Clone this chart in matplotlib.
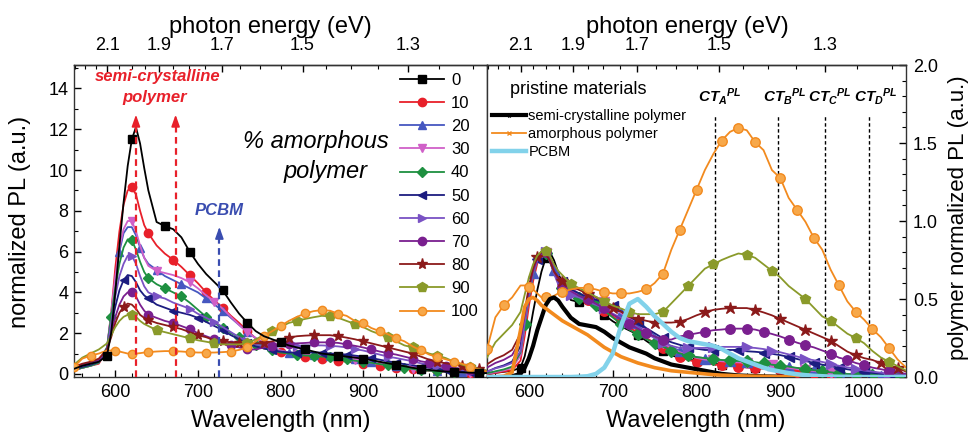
import numpy as np
import matplotlib
matplotlib.use('Agg')
import matplotlib.pyplot as plt
from matplotlib.lines import Line2D
from matplotlib.ticker import MultipleLocator, FixedLocator

plt.rcParams['font.family'] = ['Liberation Sans', 'DejaVu Sans']
plt.rcParams['mathtext.fontset'] = 'custom'
plt.rcParams['mathtext.rm'] = 'Liberation Sans'
plt.rcParams['mathtext.it'] = 'Liberation Sans:italic:bold'
plt.rcParams['mathtext.bf'] = 'Liberation Sans:bold'

# ---------------- data ----------------
wavelength = [550, 560, 570, 580, 590, 595, 600, 605, 610, 615, 620, 625, 630, 635, 640,
              650, 660, 670, 680, 690, 700, 710, 720, 730, 740, 750, 760, 770, 780, 790,
              800, 810, 820, 830, 840, 850, 860, 870, 880, 890, 900, 910, 920, 930, 940,
              950, 960, 970, 980, 990, 1000, 1010, 1020, 1030, 1040, 1050]

amorphous_pct = [0, 10, 20, 30, 40, 50, 60, 70, 80, 90, 100]

pl_0 = [0.25, 0.4, 0.5, 0.6, 0.9, 2.0, 4.0, 6.3, 8.4, 10.2, 11.5, 12.1, 11.3, 10.1, 9.0,
        7.45, 7.25, 7.1, 6.7, 6.0, 5.4, 4.9, 4.5, 4.1, 3.5, 2.95, 2.5, 2.1, 1.85, 1.7,
        1.55, 1.4, 1.3, 1.2, 1.1, 1.0, 0.95, 0.9, 0.85, 0.8, 0.75, 0.68, 0.6, 0.52, 0.45,
        0.38, 0.3, 0.25, 0.2, 0.15, 0.12, 0.1, 0.08, 0.06, 0.05, 0.04]
pl_10 = [0.2, 0.3, 0.4, 0.5, 1.2, 3.0, 5.2, 7.0, 8.3, 9.0, 9.15, 8.8, 8.0, 7.3, 6.9,
         6.3, 5.9, 5.6, 5.25, 4.85, 4.45, 4.0, 3.6, 3.25, 2.85, 2.5, 2.1, 1.75, 1.45, 1.25,
         1.1, 1.0, 0.92, 0.85, 0.8, 0.75, 0.7, 0.65, 0.6, 0.55, 0.5, 0.45, 0.4, 0.35, 0.3,
         0.26, 0.22, 0.18, 0.15, 0.12, 0.1, 0.08, 0.07, 0.06, 0.05, 0.04]
pl_20 = [0.2, 0.3, 0.4, 0.55, 1.3, 2.9, 4.6, 6.0, 6.9, 7.2, 7.2, 6.8, 6.2, 5.7, 5.4,
         5.1, 4.8, 4.6, 4.4, 4.2, 4.0, 3.7, 3.4, 3.1, 2.75, 2.4, 2.05, 1.75, 1.5, 1.3,
         1.15, 1.05, 1.0, 0.95, 0.92, 0.9, 0.87, 0.83, 0.78, 0.72, 0.65, 0.58, 0.5, 0.44, 0.38,
         0.32, 0.27, 0.22, 0.18, 0.15, 0.12, 0.1, 0.08, 0.06, 0.05, 0.04]
pl_30 = [0.2, 0.3, 0.4, 0.55, 1.3, 3.0, 4.8, 6.2, 7.1, 7.5, 7.5, 7.0, 6.3, 5.7, 5.3,
         5.05, 4.95, 4.85, 4.7, 4.5, 4.2, 3.85, 3.55, 3.2, 2.8, 2.4, 2.05, 1.75, 1.5, 1.3,
         1.15, 1.05, 1.0, 0.95, 0.9, 0.88, 0.85, 0.8, 0.75, 0.7, 0.62, 0.55, 0.48, 0.42, 0.36,
         0.3, 0.25, 0.2, 0.17, 0.14, 0.12, 0.1, 0.08, 0.06, 0.05, 0.04]
pl_40 = [0.2, 0.3, 0.4, 0.55, 1.3, 2.8, 4.2, 5.4, 6.2, 6.6, 6.55, 6.1, 5.5, 5.0, 4.7,
         4.4, 4.2, 4.0, 3.8, 3.5, 3.15, 2.8, 2.5, 2.25, 2.0, 1.8, 1.6, 1.4, 1.25, 1.15,
         1.05, 1.0, 0.95, 0.9, 0.88, 0.85, 0.82, 0.78, 0.72, 0.65, 0.6, 0.55, 0.48, 0.42, 0.36,
         0.3, 0.25, 0.2, 0.16, 0.14, 0.12, 0.1, 0.08, 0.06, 0.05, 0.04]
pl_50 = [0.2, 0.35, 0.45, 0.6, 1.2, 2.3, 3.3, 4.1, 4.6, 4.85, 4.8, 4.5, 4.1, 3.85, 3.7,
         3.4, 3.25, 3.1, 3.0, 2.9, 2.75, 2.55, 2.35, 2.15, 1.9, 1.7, 1.5, 1.35, 1.25, 1.15,
         1.1, 1.05, 1.05, 1.05, 1.05, 1.05, 1.0, 0.98, 0.95, 0.9, 0.85, 0.78, 0.7, 0.62, 0.55,
         0.48, 0.42, 0.36, 0.3, 0.25, 0.2, 0.16, 0.12, 0.1, 0.08, 0.05]
pl_60 = [0.25, 0.4, 0.5, 0.65, 1.2, 2.5, 3.8, 4.8, 5.4, 5.8, 5.8, 5.4, 4.8, 4.3, 4.0,
         3.8, 3.7, 3.5, 3.35, 3.2, 2.95, 2.75, 2.55, 2.3, 2.05, 1.8, 1.6, 1.45, 1.35, 1.35,
         1.35, 1.35, 1.38, 1.4, 1.4, 1.4, 1.38, 1.35, 1.3, 1.22, 1.15, 1.05, 0.95, 0.85, 0.78,
         0.7, 0.62, 0.52, 0.45, 0.38, 0.3, 0.25, 0.2, 0.15, 0.12, 0.08]
pl_70 = [0.3, 0.45, 0.55, 0.7, 1.2, 2.0, 2.8, 3.4, 3.8, 4.0, 4.0, 3.8, 3.4, 3.1, 2.9,
         2.75, 2.6, 2.5, 2.35, 2.2, 2.0, 1.85, 1.7, 1.55, 1.4, 1.3, 1.2, 1.2, 1.3, 1.35,
         1.4, 1.45, 1.5, 1.52, 1.55, 1.55, 1.55, 1.52, 1.45, 1.38, 1.3, 1.2, 1.1, 1.02, 0.95,
         0.85, 0.75, 0.62, 0.55, 0.45, 0.38, 0.3, 0.25, 0.2, 0.15, 0.1]
pl_80 = [0.35, 0.5, 0.6, 0.75, 1.2, 1.8, 2.5, 3.0, 3.3, 3.45, 3.4, 3.2, 2.9, 2.75, 2.65,
         2.5, 2.4, 2.3, 2.2, 2.05, 1.9, 1.8, 1.65, 1.6, 1.55, 1.5, 1.5, 1.5, 1.52, 1.6,
         1.7, 1.78, 1.85, 1.88, 1.9, 1.9, 1.9, 1.85, 1.78, 1.7, 1.6, 1.5, 1.4, 1.3, 1.2,
         1.1, 1.0, 0.85, 0.7, 0.6, 0.52, 0.47, 0.38, 0.3, 0.25, 0.15]
pl_90 = [0.45, 0.8, 1.0, 1.2, 1.5, 1.9, 2.3, 2.6, 2.8, 2.9, 2.9, 2.8, 2.6, 2.45, 2.35,
         2.15, 2.05, 1.95, 1.85, 1.75, 1.65, 1.58, 1.5, 1.45, 1.45, 1.45, 1.5, 1.7, 1.9, 2.1,
         2.3, 2.5, 2.6, 2.7, 2.78, 2.85, 2.82, 2.75, 2.6, 2.45, 2.3, 2.1, 1.95, 1.8, 1.6,
         1.4, 1.3, 1.15, 1.0, 0.9, 0.78, 0.6, 0.45, 0.35, 0.25, 0.15]
pl_100 = [0.35, 0.75, 0.9, 1.0, 1.15, 1.15, 1.13, 1.1, 1.05, 1.0, 1.0, 1.0, 1.02, 1.05, 1.07,
          1.1, 1.12, 1.12, 1.1, 1.07, 1.05, 1.05, 1.05, 1.07, 1.1, 1.18, 1.3, 1.6, 1.85, 2.1,
          2.35, 2.6, 2.8, 2.97, 3.08, 3.13, 3.1, 2.95, 2.85, 2.6, 2.5, 2.25, 2.1, 1.95, 1.75,
          1.6, 1.35, 1.15, 0.95, 0.82, 0.72, 0.6, 0.5, 0.36, 0.22, 0.12]

blend_pl = [pl_0, pl_10, pl_20, pl_30, pl_40, pl_50, pl_60, pl_70, pl_80, pl_90, pl_100]

# divisor that turns each blend spectrum into its polymer-normalized version (right panel)
polymer_norm = [15.1, 11.4, 9.0, 9.4, 8.25, 6.06, 7.25, 5.0, 4.3, 3.6, 1.96]

# pristine materials (polymer normalized units)
semicryst_pl = [0, 0, 0, 0.005, 0.02, 0.06, 0.12, 0.2, 0.3, 0.38, 0.46, 0.5, 0.51, 0.49, 0.45,
                0.38, 0.34, 0.33, 0.32, 0.29, 0.25, 0.22, 0.19, 0.17, 0.15, 0.12, 0.1, 0.08, 0.07, 0.06,
                0.05, 0.04, 0.03, 0.02, 0.015, 0.01, 0.008, 0.006, 0.004, 0.003, 0.002, 0.001, 0, 0, 0,
                0, 0, 0, 0, 0, 0, 0, 0, 0, 0, 0]
amorph_pl = [0, 0, 0.005, 0.03, 0.3, 0.45, 0.5, 0.51, 0.49, 0.46, 0.44, 0.42, 0.4, 0.38, 0.36,
             0.33, 0.3, 0.27, 0.23, 0.19, 0.16, 0.13, 0.11, 0.09, 0.075, 0.06, 0.05, 0.04, 0.035, 0.03,
             0.025, 0.02, 0.015, 0.012, 0.01, 0.008, 0.006, 0.005, 0.004, 0.003, 0.002, 0.001, 0, 0, 0,
             0, 0, 0, 0, 0, 0, 0, 0, 0, 0, 0]
pcbm_pl = [0, 0, 0, 0, 0, 0, 0, 0, 0, 0, 0, 0, 0, 0, 0,
           0, 0.002, 0.005, 0.02, 0.06, 0.15, 0.33, 0.47, 0.5, 0.45, 0.39, 0.34, 0.29, 0.25, 0.23,
           0.22, 0.21, 0.2, 0.18, 0.15, 0.12, 0.1, 0.08, 0.06, 0.045, 0.035, 0.025, 0.018, 0.012, 0.008,
           0.005, 0.003, 0.002, 0.001, 0, 0, 0, 0, 0, 0, 0]

ct_names = ['A', 'B', 'C', 'D']
ct_wavelength = [822, 897, 953, 1006]

energy_ticks = [2.1, 1.9, 1.7, 1.5, 1.3]

# ---------------- styles ----------------
colors = ['#000000', '#e8202a', '#4657c0', '#d060c8', '#1e9040', '#1c1c80',
          '#7a52c4', '#7a1f8f', '#8b1a1a', '#8a9a2a', '#f28a1e']
markers = ['s', 'o', '^', 'v', 'D', '<', '>', 'o', '*', 'p', 'o']
msizes = [5.5, 6, 6, 6, 5, 6, 6, 6, 8, 7, 6]
mark_start = [585.5, 620, 603, 620, 596, 612, 620, 620, 610, 620, 552]
mark_step = [35, 23, 26, 34, 22, 30, 34, 24, 29, 34, 23]

wl = np.array(wavelength, float)


def mark_idx(start, step):
    t = np.arange(start, 1050, step)
    return sorted(set(int(np.argmin(np.abs(wl - v))) for v in t))


def to_ev(x):
    x = np.asarray(x, float)
    return 1240.0 / np.clip(x, 1e-3, None)


W, H = 971, 432
fig = plt.figure(figsize=(W / 100, H / 100), dpi=100)
axL = fig.add_axes([74 / W, 55 / H, 413 / W, 312 / H])
axR = fig.add_axes([487 / W, 55 / H, 419 / W, 312 / H])

red = '#e8202a'
blue = '#3a4db0'

# ----- left panel -----
for i, pct in enumerate(amorphous_pct):
    c = colors[i]
    mfc = '#f7a84a' if pct == 100 else c
    axL.plot(wl, blend_pl[i], color=c, lw=1.3, marker=markers[i], ms=msizes[i],
             markevery=mark_idx(mark_start[i], mark_step[i]), mfc=mfc, mec=c,
             label=str(pct), zorder=3 + (0.1 if pct == 0 else 0))

axL.set_xlim(550, 1050)
axL.set_ylim(-0.15, 15.15)
axL.yaxis.set_major_locator(MultipleLocator(2))
axL.yaxis.set_minor_locator(MultipleLocator(1))
axL.tick_params(axis='y', which='both', direction='in', left=True, right=False,
                labelsize=13, pad=4)
axL.set_yticks([0, 2, 4, 6, 8, 10, 12, 14])

# arrows
for x, ytop, col in [(625, 12.85, red), (673, 12.85, red), (726, 7.35, blue)]:
    axL.plot([x, x], [-0.15, ytop - 0.5], ls=(0, (3, 2)), color=col, lw=1.6, zorder=6)
    axL.annotate('', xy=(x, ytop), xytext=(x, ytop - 0.6),
                 arrowprops=dict(arrowstyle='-|>,head_length=0.7,head_width=0.25',
                                 color=col, lw=1.2), zorder=6)

axL.text(651, 14.6, 'semi-crystalline', color=red, fontsize=12, fontweight='bold',
         style='italic', ha='center', va='center')
axL.text(648, 13.55, 'polymer', color=red, fontsize=12, fontweight='bold',
         style='italic', ha='center', va='center')
axL.text(726, 8.0, 'PCBM', color=blue, fontsize=12, fontweight='bold',
         style='italic', ha='center', va='center')
axL.text(843, 11.4, '% amorphous', fontsize=17, style='italic', ha='center', va='center')
axL.text(854, 9.95, 'polymer', fontsize=17, style='italic', ha='center', va='center')

legL = axL.legend(loc='upper left', bbox_to_anchor=(0.79, 0.975), frameon=False,
                  fontsize=12, borderpad=0, borderaxespad=0, handlelength=2.6,
                  handletextpad=0.45, labelspacing=0.49)

# ----- right panel -----
for i, pct in enumerate(amorphous_pct):
    c = colors[i]
    mfc = '#f7a84a' if pct == 100 else c
    vals = np.array(blend_pl[i]) / polymer_norm[i]
    axR.plot(wl, vals, color=c, lw=1.3, marker=markers[i], ms=msizes[i] + 0.8,
             markevery=mark_idx(mark_start[i], mark_step[i]), mfc=mfc, mec=c, zorder=3)

axR.plot(wl, semicryst_pl, color='black', lw=3.0, zorder=4)
axR.plot(wl, amorph_pl, color='#f28a1e', lw=2.6, zorder=4)
axR.plot(wl, pcbm_pl, color='#82d2ea', lw=3.2, zorder=5)

for name, x in zip(ct_names, ct_wavelength):
    axR.plot([x, x], [0, 1.68], color='black', lw=1.0, ls=(0, (2.5, 1.8)), zorder=2)

ct_label_x = [802, 879, 933, 988]
for name, x in zip(ct_names, ct_label_x):
    axR.text(x, 1.763, r'$CT_{%s}{}^{PL}$' % name, fontsize=11, ha='left', va='baseline')

axR.set_xlim(550, 1050)
axR.set_ylim(0, 2.0)
axR.yaxis.set_major_locator(MultipleLocator(0.5))
axR.yaxis.set_minor_locator(MultipleLocator(0.1))
axR.yaxis.tick_right()
axR.tick_params(axis='y', which='both', direction='in', left=False, right=True,
                labelsize=13, pad=5)
axR.set_yticks([0, 0.5, 1.0, 1.5, 2.0])
axR.set_yticklabels(['0.0', '0.5', '1.0', '1.5', '2.0'])

axR.text(0.055, 0.923, 'pristine materials', transform=axR.transAxes, fontsize=13,
         ha='left', va='center')
handles = [Line2D([], [], color='black', lw=3.0, marker='*', ms=3),
           Line2D([], [], color='#f28a1e', lw=1.3, marker='x', ms=3),
           Line2D([], [], color='#82d2ea', lw=3.2)]
axR.legend(handles, ['semi-crystalline polymer', 'amorphous polymer', 'PCBM'],
           loc='upper left', bbox_to_anchor=(0.012, 0.86), frameon=False, fontsize=10.5,
           borderpad=0, borderaxespad=0, handlelength=2.3, handletextpad=0.2,
           labelspacing=0.3)

# ----- shared axis styling -----
minor_e = [round(v, 2) for v in np.arange(1.15, 2.3, 0.05) if round(v, 2) not in energy_ticks]
for ax in (axL, axR):
    ax.xaxis.set_major_locator(MultipleLocator(100))
    ax.xaxis.set_minor_locator(MultipleLocator(20))
    ax.tick_params(axis='x', which='both', direction='in', top=False, bottom=True,
                   labelsize=13, pad=5)
    ax.tick_params(which='major', length=5, width=1)
    ax.tick_params(which='minor', length=3, width=0.8)
    for s in ax.spines.values():
        s.set_linewidth(1.0)
        s.set_color('#333333')
    sec = ax.secondary_xaxis('top', functions=(to_ev, to_ev))
    sec.set_xticks(energy_ticks)
    sec.set_xticklabels([f'{v:.1f}' for v in energy_ticks])
    sec.xaxis.set_minor_locator(FixedLocator(minor_e))
    sec.tick_params(which='both', direction='in', labelsize=13, pad=8)
    sec.tick_params(which='major', length=5, width=1)
    sec.tick_params(which='minor', length=3, width=0.8)
    sec.spines['top'].set_linewidth(1.0)
    sec.spines['top'].set_color('#333333')

axL.set_xticks([600, 700, 800, 900, 1000])
axR.set_xticks([600, 700, 800, 900, 1000])

# axis titles
fig.text(281 / W, 1 - 427 / H, 'Wavelength (nm)', fontsize=17, ha='center', va='baseline')
fig.text(696 / W, 1 - 427 / H, 'Wavelength (nm)', fontsize=17, ha='center', va='baseline')
fig.text(270 / W, 1 - 33 / H, 'photon energy (eV)', fontsize=17, ha='center', va='baseline')
fig.text(687 / W, 1 - 33 / H, 'photon energy (eV)', fontsize=17, ha='center', va='baseline')
fig.text(20 / W, 1 - 222 / H, 'normalized PL (a.u.)', fontsize=17, rotation=90,
         ha='center', va='center')
fig.text(958 / W, 1 - 218 / H, 'polymer normalized PL (a.u.)', fontsize=16, rotation=90,
         ha='center', va='center')

fig.savefig('out.png', dpi=100)
